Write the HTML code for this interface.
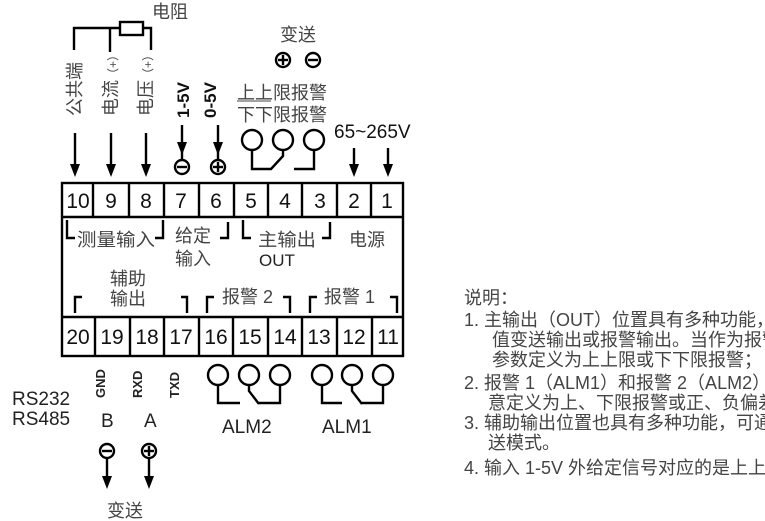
<!DOCTYPE html>
<html><head><meta charset="utf-8"><style>
html,body{margin:0;padding:0;background:#fff;}
svg{display:block;}
text{font-family:"Liberation Sans","Noto Sans CJK SC",sans-serif;}
.cn{fill:#444;font-size:18px;}
.num{font-size:21px;fill:#111;text-anchor:middle;}
</style></head><body>
<svg width="765" height="521" viewBox="0 0 765 521" xmlns="http://www.w3.org/2000/svg">
<g stroke="#000" stroke-width="2.4" fill="none">
<polyline points="74,50 74,28 120,28"/>
<line x1="110" y1="28" x2="110" y2="52"/>
<rect x="120" y="22" width="23" height="13"/>
<polyline points="143,28 151,28 151,50"/>
<line x1="75" y1="133" x2="75" y2="168"/>
<line x1="111" y1="133" x2="111" y2="168"/>
<line x1="146" y1="133" x2="146" y2="168"/>
<line x1="182" y1="125" x2="182" y2="146"/>
<line x1="218" y1="125" x2="218" y2="146"/>
<line x1="354" y1="148" x2="354" y2="168"/>
<line x1="388" y1="148" x2="388" y2="168"/>
<line x1="107" y1="459" x2="107" y2="480"/>
<line x1="149" y1="459" x2="149" y2="480"/>
<rect x="62" y="183" width="341" height="173"/>
<line x1="62" y1="217" x2="403" y2="217"/>
<line x1="62" y1="317" x2="403" y2="317"/>
<path d="M93,183V217M129,183V217M164,183V217M199,183V217M234,183V217M268,183V217M302,183V217M337,183V217M371,183V217"/>
<path d="M95,317V356M130,317V356M164,317V356M199,317V356M233,317V356M268,317V356M302,317V356M337,317V356M372,317V356"/>
<polyline points="67,220 67,238 75,238"/>
<polyline points="155,238 163,238 163,220"/>
<polyline points="220,238 228,238 228,222"/>
<polyline points="243,220 243,238 251,238"/>
<polyline points="322,238 330,238 330,222"/>
<polyline points="75,313 75,297 82,297"/>
<polyline points="181,297 187,297 187,313"/>
<polyline points="207,313 207,297 214,297"/>
<polyline points="283,297 290,297 290,313"/>
<polyline points="310,313 310,297 317,297"/>
<polyline points="390,297 397,297 397,313"/>
<circle cx="252" cy="140" r="10"/><circle cx="283" cy="140" r="10"/><circle cx="314" cy="140" r="10"/>
<polyline points="252,150 252,169 271,169 283,156 283,150"/>
<polyline points="314,150 314,169 294,169"/>
<circle cx="218" cy="375" r="10"/><circle cx="249" cy="375" r="10"/><circle cx="280" cy="375" r="10"/>
<polyline points="218,385 218,403 240,403"/>
<polyline points="249,385 249,391 259,404"/>
<polyline points="259,403 280,403 280,385"/>
<circle cx="322" cy="375" r="10"/><circle cx="352" cy="375" r="10"/><circle cx="383" cy="375" r="10"/>
<polyline points="322,385 322,403 342,403"/>
<polyline points="352,385 352,391 362,404"/>
<polyline points="362,403 383,403 383,385"/>
<circle cx="182" cy="167" r="7"/><line x1="177" y1="167" x2="187" y2="167"/>
<circle cx="218" cy="167" r="7"/><line x1="213" y1="167" x2="223" y2="167"/><line x1="218" y1="162" x2="218" y2="172"/>
<circle cx="283" cy="60" r="7"/><line x1="278" y1="60" x2="288" y2="60"/><line x1="283" y1="55" x2="283" y2="65"/>
<circle cx="313" cy="60" r="7"/><line x1="308" y1="60" x2="318" y2="60"/>
<circle cx="107" cy="451" r="7"/><line x1="102" y1="451" x2="112" y2="451"/>
<circle cx="149" cy="451" r="7"/><line x1="144" y1="451" x2="154" y2="451"/><line x1="149" y1="446" x2="149" y2="456"/>
<line x1="182" y1="146" x2="182" y2="160"/>
<line x1="218" y1="146" x2="218" y2="160"/>
<line x1="237" y1="101" x2="271" y2="101" stroke="#444" stroke-width="1"/>
</g>
<g fill="#000">
<path d="M70,164 L80,164 L75,177 Z"/>
<path d="M106,164 L116,164 L111,177 Z"/>
<path d="M141,164 L151,164 L146,177 Z"/>
<path d="M177,142 L187,142 L182,155 Z"/>
<path d="M213,142 L223,142 L218,155 Z"/>
<path d="M349,164 L359,164 L354,177 Z"/>
<path d="M383,164 L393,164 L388,177 Z"/>
<path d="M102,476 L112,476 L107,489 Z"/>
<path d="M144,476 L154,476 L149,489 Z"/>
</g>
<g class="num">
<text x="78" y="208">10</text><text x="111" y="208">9</text><text x="146" y="208">8</text><text x="181" y="208">7</text><text x="216" y="208">6</text><text x="251" y="208">5</text><text x="285" y="208">4</text><text x="320" y="208">3</text><text x="354" y="208">2</text><text x="387" y="208">1</text>
<text x="78" y="344">20</text><text x="112" y="344">19</text><text x="147" y="344">18</text><text x="181" y="344">17</text><text x="216" y="344">16</text><text x="250" y="344">15</text><text x="285" y="344">14</text><text x="319" y="344">13</text><text x="354" y="344">12</text><text x="388" y="344">11</text>
</g>
<text class="cn" x="152" y="18">电阻</text>
<text class="cn" x="280" y="41">变送</text>
<text class="cn" x="237" y="99" font-size="17">上上限报警</text>
<text class="cn" x="237" y="121" font-size="17">下下限报警</text>
<text x="334" y="138" font-size="19" fill="#111">65~265V</text>
<text class="cn" font-size="17" transform="translate(81,116) rotate(-90)">公共端</text>
<text class="cn" font-size="17" transform="translate(117,116) rotate(-90)">电流<tspan font-size="12">（+）</tspan></text>
<text class="cn" font-size="17" transform="translate(152,116) rotate(-90)">电压<tspan font-size="12">（+）</tspan></text>
<text transform="translate(189,118) rotate(-90)" font-size="17" font-weight="bold" fill="#111">1-5V</text>
<text transform="translate(216,118) rotate(-90)" font-size="17" font-weight="bold" fill="#111">0-5V</text>
<text class="cn" x="77" y="246" textLength="78" lengthAdjust="spacingAndGlyphs">测量输入</text>
<text class="cn" x="175" y="242">给定</text>
<text class="cn" x="175" y="265">输入</text>
<text class="cn" x="258" y="246" textLength="58" lengthAdjust="spacingAndGlyphs">主输出</text>
<text x="259" y="266" font-size="17" fill="#222">OUT</text>
<text class="cn" x="349" y="246">电源</text>
<text class="cn" x="110" y="285">辅助</text>
<text class="cn" x="110" y="305">输出</text>
<text class="cn" x="222" y="303">报警 2</text>
<text class="cn" x="324" y="303">报警 1</text>
<text x="12" y="405" font-size="19" fill="#222">RS232</text>
<text x="12" y="425" font-size="19" fill="#222">RS485</text>
<text transform="translate(105,398) rotate(-90)" font-size="13" font-weight="bold" fill="#222">GND</text>
<text transform="translate(142,398) rotate(-90)" font-size="13" font-weight="bold" fill="#222">RXD</text>
<text transform="translate(179,398) rotate(-90)" font-size="13" font-weight="bold" fill="#222">TXD</text>
<text x="101" y="427" font-size="19" fill="#222">B</text>
<text x="144" y="427" font-size="19" fill="#222">A</text>
<text x="222" y="433" font-size="19" fill="#222">ALM2</text>
<text x="322" y="433" font-size="19" fill="#222">ALM1</text>
<text class="cn" x="107" y="517">变送</text>
<g class="cn" font-size="17">
<text x="464" y="304">说明：</text>
<text x="464" y="326">1.  主输出（OUT）位置具有多种功能，可</text>
<text x="492" y="346">值变送输出或报警输出。当作为报警</text>
<text x="492" y="366">参数定义为上上限或下下限报警；</text>
<text x="464" y="389">2. 报警 1（ALM1）和报警 2（ALM2）使</text>
<text x="488" y="409">意定义为上、下限报警或正、负偏差</text>
<text x="464" y="429">3. 辅助输出位置也具有多种功能，可通</text>
<text x="488" y="449">送模式。</text>
<text x="464" y="474">4. 输入 1-5V 外给定信号对应的是上上限</text>
</g>
</svg>
</body></html>
